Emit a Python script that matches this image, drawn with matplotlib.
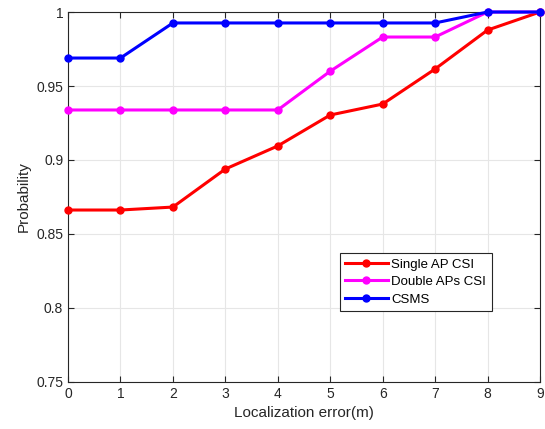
import matplotlib
matplotlib.use("Agg")
import matplotlib.pyplot as plt

plt.rcParams["font.family"] = ["Liberation Sans", "DejaVu Sans"]

x = [0, 1, 2, 3, 4, 5, 6, 7, 8, 9]
single_ap = [0.8662, 0.8662, 0.8682, 0.8939, 0.9095, 0.9304, 0.9378, 0.9615, 0.9878, 1.0]
double_ap = [0.9338, 0.9338, 0.9338, 0.9338, 0.9338, 0.9600, 0.9831, 0.9831, 1.0, 1.0]
csms = [0.9689, 0.9689, 0.9926, 0.9926, 0.9926, 0.9926, 0.9926, 0.9926, 1.0, 1.0]

fig = plt.figure(figsize=(5.45, 4.29), dpi=100)
ax = fig.add_axes([0.1248, 0.1096, 0.866, 0.8624])

style = dict(lw=2.2, marker="o", ms=5, clip_on=False, zorder=3)
ax.plot(x, single_ap, color="#ff0000", label="Single AP CSI", **style)
ax.plot(x, double_ap, color="#ff00ff", label="Double APs CSI", **style)
ax.plot(x, csms, color="#0000ff", label="CSMS", **style)

ax.set_xlim(0, 9)
ax.set_ylim(0.75, 1.0)
ax.set_xticks(x)
ax.set_yticks([0.75, 0.8, 0.85, 0.9, 0.95, 1.0])
ax.set_yticklabels(["0.75", "0.8", "0.85", "0.9", "0.95", "1"])
ax.tick_params(direction="in", labelsize=10, colors="#262626", length=4, top=True, right=True,
               labeltop=False, labelright=False)
for s in ax.spines.values():
    s.set_color("#262626")
    s.set_linewidth(0.8)
ax.grid(True, color="#e6e6e6", lw=0.8)
ax.set_axisbelow(True)
ax.set_xlabel("Localization error(m)", fontsize=11, color="#262626")
ax.set_ylabel("Probability", fontsize=11, color="#262626")

leg = ax.legend(loc="upper left", bbox_to_anchor=(340 / 545, 1 - 253 / 429),
                bbox_transform=fig.transFigure, fontsize=9.5, fancybox=False,
                framealpha=1, edgecolor="#262626", borderpad=0.4, labelspacing=0.4,
                handlelength=3.2, handletextpad=0.3, borderaxespad=0)
leg.get_frame().set_linewidth(0.8)

fig.savefig("out.png", dpi=100)
